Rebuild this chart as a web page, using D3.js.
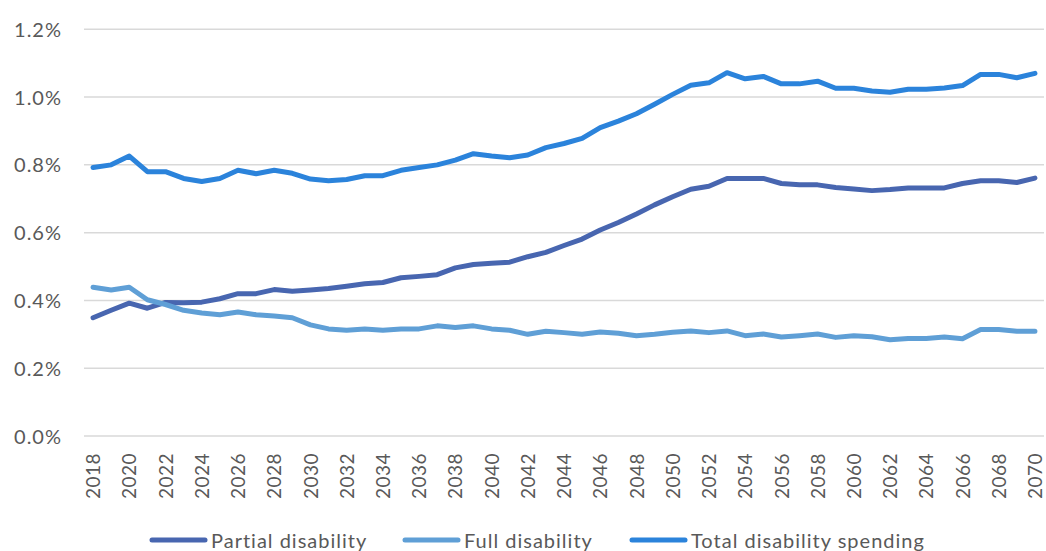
<!DOCTYPE html>
<html>
<head>
<meta charset="utf-8">
<script src="https://cdn.jsdelivr.net/npm/d3@7"></script>
<style>
    body { margin: 0; background: #fff; }
    svg text { font-family: Lato, "Open Sans", sans-serif; fill: #595959; }
</style>
</head>
<body>
<svg id="canvas"></svg>
<script>
var w = 1046
var h = 551

// ########## Data ##########

var years = d3.range(2018, 2071);

var partialDisability = [
    0.349, 0.371, 0.392, 0.377, 0.394, 0.393, 0.395, 0.405, 0.420, 0.420,
    0.432, 0.427, 0.431, 0.435, 0.442, 0.449, 0.453, 0.467, 0.471, 0.476,
    0.496, 0.506, 0.510, 0.513, 0.529, 0.542, 0.562, 0.581, 0.608, 0.630,
    0.655, 0.682, 0.706, 0.728, 0.737, 0.760, 0.760, 0.760, 0.745, 0.741,
    0.741, 0.733, 0.729, 0.724, 0.727, 0.732, 0.732, 0.732, 0.745, 0.753,
    0.753, 0.748, 0.761
];

var fullDisability = [
    0.439, 0.431, 0.439, 0.402, 0.388, 0.371, 0.363, 0.358, 0.366, 0.358,
    0.354, 0.349, 0.328, 0.316, 0.312, 0.316, 0.312, 0.316, 0.316, 0.325,
    0.320, 0.325, 0.316, 0.312, 0.300, 0.309, 0.305, 0.300, 0.307, 0.303,
    0.296, 0.300, 0.306, 0.310, 0.305, 0.310, 0.296, 0.301, 0.292, 0.296,
    0.301, 0.291, 0.296, 0.293, 0.284, 0.288, 0.288, 0.292, 0.287, 0.314,
    0.314, 0.309, 0.309
];

var totalDisability = [
    0.792, 0.800, 0.826, 0.780, 0.780, 0.760, 0.751, 0.760, 0.784, 0.774,
    0.784, 0.775, 0.758, 0.753, 0.757, 0.768, 0.768, 0.784, 0.792, 0.800,
    0.814, 0.833, 0.826, 0.821, 0.829, 0.851, 0.863, 0.878, 0.910, 0.929,
    0.951, 0.979, 1.008, 1.035, 1.042, 1.072, 1.054, 1.061, 1.039, 1.039,
    1.047, 1.026, 1.026, 1.018, 1.014, 1.023, 1.023, 1.027, 1.034, 1.067,
    1.067, 1.057, 1.070
];

var yTicks = [0, 0.2, 0.4, 0.6, 0.8, 1.0, 1.2];
var xTickYears = years.filter(function (d) { return d % 2 === 0; });

var seriesNames = ["Partial disability", "Full disability", "Total disability spending"];
var seriesColors = ["#4866b0", "#5f9fd6", "#2b83db"];

var series = [partialDisability, fullDisability, totalDisability].map(function (vals, i) {
    return { name: seriesNames[i], color: seriesColors[i], values: vals };
});

// ########## SVG ##########

var svg = d3.select("#canvas")
    .attr("width", w)
    .attr("height", h);

var x = d3.scalePoint()
    .domain(years)
    .range([84, 1044])
    .padding(0.5);

var y = d3.scaleLinear()
    .domain([0, 1.2])
    .range([436, 29.3]);

// ########## Grid ##########

svg.append("g")
    .selectAll("line")
    .data(yTicks).enter()
    .append("line")
    .attr("x1", 84)
    .attr("x2", 1044)
    .attr("y1", function (d) { return y(d); })
    .attr("y2", function (d) { return y(d); })
    .attr("stroke", "#d9d9d9")
    .attr("stroke-width", 1.5);

// ########## Axes ##########

var yAxis = svg.append("g")
    .attr("transform", "translate(62,0)")
    .call(d3.axisLeft(y).tickValues(yTicks).tickSize(0).tickPadding(0)
        .tickFormat(function (d) { return d.toFixed(1) + "%"; }));
yAxis.select(".domain").remove();
yAxis.selectAll("text")
    .attr("font-size", 20)
    .attr("letter-spacing", 1)
    .attr("dy", "0.35em");

var xAxis = svg.append("g")
    .attr("transform", "translate(0,453)")
    .call(d3.axisBottom(x).tickValues(xTickYears).tickSize(0).tickPadding(0));
xAxis.select(".domain").remove();
xAxis.selectAll("text")
    .attr("font-size", 19)
    .attr("letter-spacing", 0.5)
    .attr("transform", "rotate(-90)")
    .attr("text-anchor", "end")
    .attr("x", 0)
    .attr("y", 0)
    .attr("dy", "0.35em");

// ########## Lines ##########

var line = d3.line()
    .x(function (d, i) { return x(years[i]); })
    .y(function (d) { return y(d); });

svg.append("g")
    .selectAll("path")
    .data(series).enter()
    .append("path")
    .attr("d", function (d) { return line(d.values); })
    .attr("fill", "none")
    .attr("stroke", function (d) { return d.color; })
    .attr("stroke-width", 5)
    .attr("stroke-linejoin", "round")
    .attr("stroke-linecap", "round");

// ########## Legend ##########

var legendX = [152, 405, 632];

var legend = svg.append("g")
    .selectAll("g")
    .data(series).enter()
    .append("g")
    .attr("transform", function (d, i) { return "translate(" + legendX[i] + ",540)"; });

legend.append("line")
    .attr("x1", 0)
    .attr("x2", 53)
    .attr("stroke", function (d) { return d.color; })
    .attr("stroke-width", 5)
    .attr("stroke-linecap", "round");

legend.append("text")
    .attr("x", 59)
    .attr("dy", "0.38em")
    .attr("font-size", 20)
    .attr("letter-spacing", 1)
    .text(function (d) { return d.name; });
</script>
</body>
</html>
